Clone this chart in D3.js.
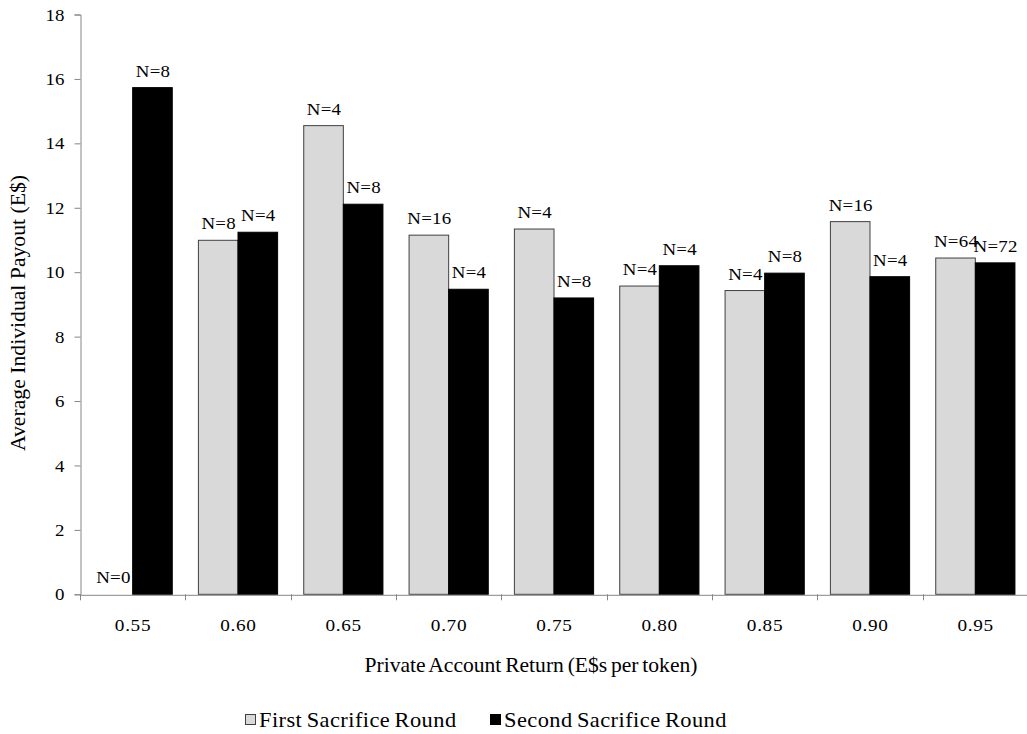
<!DOCTYPE html>
<html>
<head>
<meta charset="utf-8">
<script src="https://cdn.jsdelivr.net/npm/d3@7"></script>
<style>
  body { margin: 0; background: #fff; }
  svg text { font-family: "Liberation Serif", "Times New Roman", serif; fill: #000; }
</style>
</head>
<body>
<svg id="chart" width="1027" height="734"></svg>
<script>
const categories = ["0.55", "0.60", "0.65", "0.70", "0.75", "0.80", "0.85", "0.90", "0.95"];
const seriesNames = ["First Sacrifice Round", "Second Sacrifice Round"];
const firstValues = [0, 10.99, 14.55, 11.15, 11.34, 9.57, 9.43, 11.57, 10.44];
const secondValues = [15.73, 11.24, 12.11, 9.47, 9.20, 10.20, 9.97, 9.86, 10.29];
const firstN = [0, 8, 4, 16, 4, 4, 4, 16, 64];
const secondN = [8, 4, 8, 4, 8, 4, 8, 4, 72];
const yTicks = [0, 2, 4, 6, 8, 10, 12, 14, 16, 18];
const xTitle = "Private Account Return (E$s per token)";
const yTitle = "Average Individual Payout (E$)";

const svg = d3.select("#chart");
const FONT = "Liberation Serif, Times New Roman, serif";
const axisColor = "#868686";
const colors = ["#d9d9d9", "#000000"];
const strokes = ["#404040", "#000000"];

const x0 = d3.scaleBand().domain(categories).range([80, 1028]).padding(0);
const x1 = d3.scaleBand().domain(seriesNames).range([0, x0.bandwidth()]).paddingInner(0).paddingOuter(0.33);
const y = d3.scaleLinear().domain([0, 18]).range([594.3, 14.5]);

const data = categories.map((c, i) => ({
  cat: c,
  bars: [
    { s: seriesNames[0], v: firstValues[i], n: firstN[i], k: 0 },
    { s: seriesNames[1], v: secondValues[i], n: secondN[i], k: 1 }
  ]
}));

// bars
const groups = svg.append("g").selectAll("g").data(data).join("g")
  .attr("transform", d => `translate(${x0(d.cat)},0)`);

groups.selectAll("rect").data(d => d.bars.filter(b => b.v > 0)).join("rect")
  .attr("x", b => x1(b.s))
  .attr("y", b => y(b.v))
  .attr("width", x1.bandwidth())
  .attr("height", b => y(0) - y(b.v))
  .attr("fill", b => colors[b.k])
  .attr("stroke", b => strokes[b.k])
  .attr("stroke-width", 1);

groups.selectAll("text").data(d => d.bars).join("text")
  .attr("transform", b => `translate(${x1(b.s) + x1.bandwidth() / 2 + 0.5},${y(b.v) - 11}) scale(1.08,1)`)
  .attr("text-anchor", "middle")
  .attr("font-family", FONT)
  .attr("font-size", 17.5)
  .attr("letter-spacing", 0.2)
  .text(b => "N=" + b.n);

// y axis
const yAxis = svg.append("g").attr("transform", "translate(80.5,0)")
  .call(d3.axisLeft(y).tickValues(yTicks).tickSize(6).tickPadding(10).tickFormat(d3.format("d")));
yAxis.select(".domain").attr("stroke", axisColor);
yAxis.selectAll(".tick line").attr("stroke", axisColor);
yAxis.selectAll(".tick text").attr("font-size", 17.5).attr("font-family", FONT)
  .attr("fill", "#000")
  .attr("x", -16 / 1.08)
  .attr("transform", "scale(1.08,1)");

// x axis
const xAxis = svg.append("g").attr("transform", `translate(0,${y(0) + 0.5})`)
  .call(d3.axisBottom(x0).tickSize(0).tickPadding(24));
xAxis.select(".domain").attr("stroke", axisColor);
xAxis.selectAll(".tick text").attr("font-size", 17.5).attr("font-family", FONT)
  .attr("letter-spacing", 0.6).attr("dx", 0.3).attr("fill", "#000")
  .attr("transform", "scale(1.1,1)");
// tick marks at band boundaries
const bounds = categories.map(c => x0(c)).concat([x0(categories[categories.length - 1]) + x0.bandwidth()]);
svg.append("g").selectAll("line").data(bounds).join("line")
  .attr("x1", d => Math.round(d) + 0.5).attr("x2", d => Math.round(d) + 0.5)
  .attr("y1", y(0)).attr("y2", y(0) + 6)
  .attr("stroke", axisColor);

// axis titles
svg.append("text").attr("transform", "translate(531,672) scale(1.08,1)").attr("text-anchor", "middle")
  .attr("font-family", FONT).attr("font-size", 20)
  .attr("word-spacing", -1.5).text(xTitle);
svg.append("text").attr("transform", "translate(25,313) rotate(-90) scale(1.085,1)").attr("text-anchor", "middle")
  .attr("font-family", FONT).attr("font-size", 20)
  .text(yTitle);

// legend
const legendItems = [{ name: seriesNames[0], x: 245, k: 0 }, { name: seriesNames[1], x: 490, k: 1 }];
const lg = svg.append("g").selectAll("g").data(legendItems).join("g");
lg.append("rect").attr("x", d => d.x + 0.5).attr("y", 714.5).attr("width", 10).attr("height", 10)
  .attr("fill", d => colors[d.k]).attr("stroke", d => strokes[d.k]);
lg.append("text").attr("transform", d => `translate(${d.x + 14},727) scale(1.12,1)`)
  .attr("font-family", FONT).attr("font-size", 20)
  .attr("letter-spacing", 0.4).attr("word-spacing", -1.5).text(d => d.name);
</script>
</body>
</html>
